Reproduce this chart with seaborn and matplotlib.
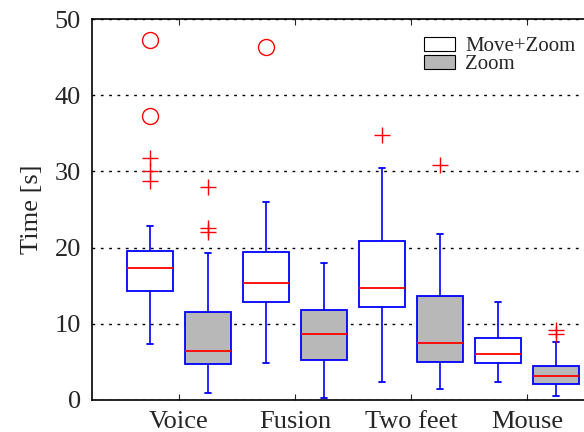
import numpy as np
import pandas as pd
import matplotlib
matplotlib.use("Agg")
import matplotlib.pyplot as plt
import seaborn as sns

methods = ["Voice", "Fusion", "Two feet", "Mouse"]
conditions = ["Move+Zoom", "Zoom"]

# Box-plot summaries (one value per method)
whisker_low = {"Move+Zoom": [7.35, 4.8, 2.4, 2.4], "Zoom": [0.9, 0.3, 1.45, 0.5]}
q1 = {"Move+Zoom": [14.3, 12.9, 12.2, 4.9], "Zoom": [4.7, 5.2, 4.95, 2.1]}
median = {"Move+Zoom": [17.3, 15.4, 14.7, 6.1], "Zoom": [6.45, 8.6, 7.5, 3.15]}
q3 = {"Move+Zoom": [19.6, 19.4, 20.9, 8.15], "Zoom": [11.5, 11.75, 13.6, 4.45]}
whisker_high = {"Move+Zoom": [22.9, 26.0, 30.4, 12.85], "Zoom": [19.3, 18.0, 21.8, 7.55]}
outliers = {
    "Move+Zoom": [[28.7, 30.1, 31.8, 37.3, 47.3], [46.3], [34.8], []],
    "Zoom": [[22.1, 22.6, 28.0], [], [30.9], [8.7, 9.15]],
}

# Build sample tables whose box statistics reproduce the summaries above
rows_all, rows_main = [], []
for cond in conditions:
    for i, m in enumerate(methods):
        core = ([whisker_low[cond][i]] + [q1[cond][i]] * 10 + [median[cond][i]] * 10
                + [q3[cond][i]] * 10 + [whisker_high[cond][i]])
        iqr = q3[cond][i] - q1[cond][i]
        for v in core + outliers[cond][i]:
            rows_all.append((m, cond, v))
            if v <= q3[cond][i] + 3 * iqr:
                rows_main.append((m, cond, v))
df_all = pd.DataFrame(rows_all, columns=["method", "condition", "time"])
df_main = pd.DataFrame(rows_main, columns=["method", "condition", "time"])

sns.set_style("ticks")
plt.rcParams["font.family"] = ["Liberation Serif", "DejaVu Serif"]

fig = plt.figure(figsize=(5.84, 4.32), dpi=100)
ax = fig.add_axes([92 / 584, 1 - 400 / 432, 1 - 92 / 584, (400 - 19) / 432])

palette = {"Move+Zoom": "white", "Zoom": "#b8b8b8"}
common = dict(x="method", y="time", hue="condition", order=methods, hue_order=conditions,
              palette=palette, saturation=1, width=1.0, gap=0.2, ax=ax, capwidths=0.05)

sns.boxplot(data=df_main, whis=1.5, linecolor="blue", linewidth=1.3,
            medianprops=dict(color="red", linewidth=1.3),
            whiskerprops=dict(color="blue", linewidth=1.2), capprops=dict(color="blue"),
            flierprops=dict(marker="+", markeredgecolor="red", markersize=12,
                            markeredgewidth=1.0),
            **common)

invis = dict(visible=False)
sns.boxplot(data=df_all, whis=3.0, boxprops=invis, whiskerprops=invis, capprops=invis,
            medianprops=invis, legend=False,
            flierprops=dict(marker="o", markerfacecolor="none", markeredgecolor="red",
                            markersize=11.5, markeredgewidth=1.0),
            **common)

ax.set_xlim(-0.75, 3.49)
ax.set_ylim(0, 50)
ax.set_yticks([0, 10, 20, 30, 40, 50])
ax.set_xlabel("")
ax.set_ylabel("Time [s]", fontsize=19, labelpad=8)
ax.tick_params(axis="x", direction="in", length=4, top=True, bottom=True, labelsize=19, pad=8)
ax.tick_params(axis="y", length=0, labelsize=19, pad=8)
ax.yaxis.grid(True, color="black", linestyle=(0, (2, 4)), linewidth=1.0)
ax.set_axisbelow(True)
for s in ["left", "bottom", "top"]:
    ax.spines[s].set_color("black")
    ax.spines[s].set_linewidth(1.2)
ax.spines["right"].set_visible(False)

handles, labels = ax.get_legend_handles_labels()
for h in handles:
    h.set_edgecolor("black")
    h.set_linewidth(0.8)
ax.legend(handles, labels, loc="upper right", bbox_to_anchor=(1.0, 0.975), frameon=False,
          fontsize=15, handlelength=1.5, handleheight=0.7, labelspacing=-0.08,
          handletextpad=0.5, borderaxespad=0.0)

fig.savefig("out.png", dpi=100)
